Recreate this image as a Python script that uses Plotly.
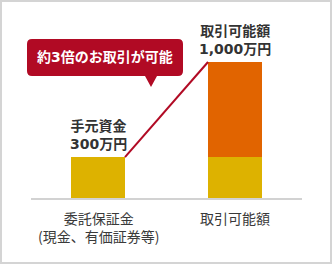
import plotly.graph_objects as go

# ---- data ----
categories = ["委託保証金<br>(現金、有価証券等)", "取引可能額"]
own_funds = [300, 300]          # yellow segment (万円)
extra_trading = [0, 700]        # orange segment (万円)
value_labels = ["手元資金<br>300万円", "取引可能額<br>1,000万円"]
callout_text = "約3倍のお取引が可能"

totals = [a + b for a, b in zip(own_funds, extra_trading)]

# ---- styling / geometry ----
W, H = 332, 264
YELLOW = "#ddb200"
ORANGE = "#e16400"
RED = "#b10a24"
TEXT = "#333333"
FONT = "Noto Sans CJK JP"
NUM_FONT = "DejaVu Sans, Noto Sans CJK JP"
BAR_W = 0.394

def X(px):
    return px / W

def Y(py):
    return 1 - py / H

x_pos = list(range(len(categories)))

fig = go.Figure()
fig.add_trace(go.Bar(x=x_pos, y=own_funds, width=BAR_W, marker_color=YELLOW,
                     marker_line_width=0, hoverinfo="skip"))
fig.add_trace(go.Bar(x=x_pos, y=extra_trading, width=BAR_W, marker_color=ORANGE,
                     marker_line_width=0, hoverinfo="skip"))
# connecting line from top-right of bar 1 to top-left of bar 2
fig.add_trace(go.Scatter(x=[x_pos[0] + BAR_W / 2, x_pos[1] - BAR_W / 2],
                         y=[totals[0], totals[1]], mode="lines",
                         line=dict(color=RED, width=2), hoverinfo="skip",
                         cliponaxis=False))

annotations = []
for i, (lab, tot) in enumerate(zip(value_labels, totals)):
    annotations.append(dict(x=i, y=tot, xref="x", yref="y", text=f"<b>{lab}</b>",
                            showarrow=False, yanchor="bottom", yshift=3,
                            font=dict(family=NUM_FONT, size=14, color=TEXT)))
for i, cat in enumerate(categories):
    annotations.append(dict(x=i, y=0, xref="x", yref="y", text=cat,
                            showarrow=False, yanchor="top", yshift=-8,
                            font=dict(family=FONT, size=14, color="#3a3a3a")))
annotations.append(dict(x=X(105), y=Y(57.5), xref="paper", yref="paper",
                        text=f"<b>{callout_text}</b>", showarrow=False,
                        xanchor="center", yanchor="middle",
                        font=dict(family=NUM_FONT, size=14, color="white")))

# rounded callout box with pointer
l, r, t, b, rad = 27, 183, 39, 76, 5
pts = [
    f"M {X(l + rad)},{Y(t)}",
    f"L {X(r - rad)},{Y(t)}",
    f"Q {X(r)},{Y(t)} {X(r)},{Y(t + rad)}",
    f"L {X(r)},{Y(b - rad)}",
    f"Q {X(r)},{Y(b)} {X(r - rad)},{Y(b)}",
    f"L {X(157)},{Y(b)}",
    f"L {X(151)},{Y(87)}",
    f"L {X(145)},{Y(b)}",
    f"L {X(l + rad)},{Y(b)}",
    f"Q {X(l)},{Y(b)} {X(l)},{Y(b - rad)}",
    f"L {X(l)},{Y(t + rad)}",
    f"Q {X(l)},{Y(t)} {X(l + rad)},{Y(t)}",
    "Z",
]
shapes = [
    dict(type="path", xref="paper", yref="paper", path=" ".join(pts),
         fillcolor=RED, line=dict(width=0), layer="above"),
    # baseline
    dict(type="rect", xref="paper", yref="paper", x0=X(31), x1=X(302),
         y0=Y(200), y1=Y(198), fillcolor="#d2d2d2", line=dict(width=0)),
    # outer border
    dict(type="rect", xref="paper", yref="paper", x0=X(1), x1=X(331),
         y0=Y(263), y1=Y(1), line=dict(color="#d4d4d4", width=2),
         fillcolor="rgba(0,0,0,0)"),
]

px_per_unit = 0.136
base_py = 198
fig.update_layout(
    width=W, height=H, margin=dict(l=0, r=0, t=0, b=0),
    paper_bgcolor="white", plot_bgcolor="white",
    barmode="stack", bargap=0, showlegend=False,
    xaxis=dict(range=[-98 / 137, (W - 98) / 137], visible=False, fixedrange=True),
    yaxis=dict(range=[(base_py - H) / px_per_unit, base_py / px_per_unit],
               visible=False, fixedrange=True),
    annotations=annotations, shapes=shapes,
)

fig.write_html("out.html", config={"displayModeBar": False})
